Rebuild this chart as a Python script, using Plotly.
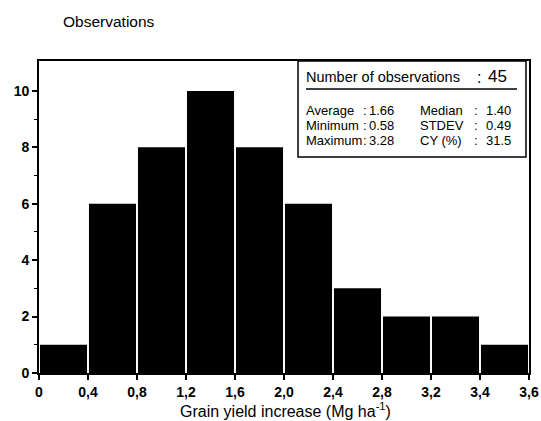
import plotly.graph_objects as go

# Histogram of grain yield increase (Mg/ha), 10 classes
bin_edges = ["0", "0,4", "0,8", "1,2", "1,6", "2,0", "2,4", "2,8", "3,2", "3,4", "3,6"]
counts = [1, 6, 8, 10, 8, 6, 3, 2, 2, 1]

# Summary statistics shown in the inset box
n_obs = 45
left_labels = ["Average", "Minimum", "Maximum"]
left_values = ["1.66", "0.58", "3.28"]
right_labels = ["Median", "STDEV", "CY (%)"]
right_values = ["1.40", "0.49", "31.5"]

FONT = "Liberation Sans, Arial, Helvetica, sans-serif"

centers = [i + 0.5 for i in range(len(counts))]

fig = go.Figure(
    go.Bar(
        x=centers,
        y=counts,
        width=0.96,
        marker=dict(color="black", line=dict(width=0)),
        hoverinfo="skip",
    )
)

fig.update_layout(
    width=541,
    height=421,
    margin=dict(l=39, r=12, t=61, b=48),
    paper_bgcolor="white",
    plot_bgcolor="white",
    showlegend=False,
    font=dict(family=FONT, color="black"),
)

fig.update_xaxes(
    range=[0, len(counts)],
    automargin=False,
    tickmode="array",
    tickvals=list(range(len(bin_edges))),
    ticktext=[f"<b>{t}</b>" for t in bin_edges],
    ticks="outside",
    ticklen=5,
    tickwidth=1.5,
    tickcolor="black",
    tickfont=dict(size=14, family=FONT),
    showgrid=False,
    zeroline=False,
    showline=True,
    linecolor="black",
    linewidth=1.5,
    mirror=True,
)

fig.update_yaxes(
    range=[0, 11.06],
    automargin=False,
    tickmode="array",
    tickvals=[0, 2, 4, 6, 8, 10],
    ticktext=["<b>0</b>", "<b>2</b>", "<b>4</b>", "<b>6</b>", "<b>8</b>", "<b>10</b>"],
    ticks="outside",
    ticklen=5,
    tickwidth=1.5,
    tickcolor="black",
    tickfont=dict(size=14, family=FONT),
    minor=dict(tickvals=[1, 3, 5, 7, 9], ticks="outside", ticklen=3, tickcolor="black", tickwidth=1),
    showgrid=False,
    zeroline=False,
    showline=True,
    linecolor="black",
    linewidth=1.8,
    mirror=True,
)


def px_x(px):
    return (px - 39) / 490.0


def px_y(py):
    return (373 - py) / 312.0


def label(text, px, py, size=13, anchor="left"):
    fig.add_annotation(
        text=text, xref="paper", yref="paper",
        x=px_x(px), y=px_y(py),
        xanchor=anchor, yanchor="middle",
        showarrow=False,
        font=dict(size=size, family=FONT),
    )


# Plot title in the upper-left corner
label("Observations", 61, 21, size=15.5)

# X axis title
label("Grain yield increase (Mg ha<sup>-1</sup>)", 285, 410, size=16, anchor="center")

# Statistics inset box
fig.add_shape(
    type="rect", xref="paper", yref="paper",
    x0=px_x(298), x1=px_x(526), y0=px_y(157), y1=px_y(61),
    line=dict(color="black", width=1.5),
    fillcolor="white",
    layer="above",
)
fig.add_shape(
    type="line", xref="paper", yref="paper",
    x0=px_x(306), x1=px_x(517), y0=px_y(89), y1=px_y(89),
    line=dict(color="black", width=1.5),
)

label("Number of observations", 304, 77, size=14.5)
label(":", 475, 77, size=16)
label(str(n_obs), 486, 76, size=17)

row_y = [110, 125, 140]
for i, yy in enumerate(row_y):
    label(left_labels[i], 304, yy)
    label(":", 361, yy)
    label(left_values[i], 367, yy)
    label(right_labels[i], 418, yy)
    label(":", 472, yy)
    label(right_values[i], 484, yy)

fig.write_html("out.html")
